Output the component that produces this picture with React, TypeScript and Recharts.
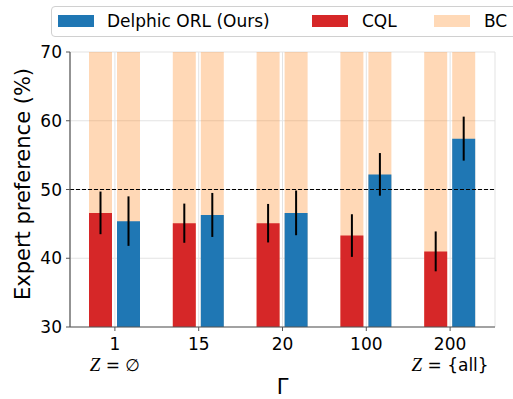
import React from 'react';
import {
  BarChart,
  Bar,
  XAxis,
  YAxis,
  CartesianGrid,
  ReferenceLine,
  ErrorBar,
} from 'recharts';

const GAMMAS = ['1', '15', '20', '100', '200'];
const SUB_LABELS = ['= ∅', '', '', '', '= {all}'];
const CQL = [46.6, 45.1, 45.1, 43.3, 41.0];
const CQL_ERR = [3.1, 2.85, 2.8, 3.1, 2.9];
const ORL = [45.4, 46.3, 46.6, 52.2, 57.4];
const ORL_ERR = [3.6, 3.2, 3.25, 3.1, 3.2];
const BC = [70, 70, 70, 70, 70];
const Y_TICKS = [30, 40, 50, 60, 70];

const BLUE = '#1f77b4';
const RED = '#d62728';
const ORANGE = '#ff7f0e';
const FRAME = '#555555';
const FONT = 'DejaVu Sans, sans-serif';

// BC is drawn twice, once behind each method's bar
const rows = GAMMAS.map((gamma, i) => ({
  gamma,
  cql: CQL[i],
  cqlErr: CQL_ERR[i],
  orl: ORL[i],
  orlErr: ORL_ERR[i],
  bcA: BC[i],
  bcB: BC[i],
}));

const GammaTick = (props: any) => {
  const { x, y, payload } = props;
  const idx = GAMMAS.indexOf(payload.value);
  const sub = SUB_LABELS[idx];
  return (
    <g>
      <text x={x} y={y + 17} textAnchor="middle" fontSize={17} fill="#000">
        {payload.value}
      </text>
      {sub && (
        <text x={x} y={y + 38} textAnchor="middle" fontSize={17} fill="#000">
          <tspan fontFamily="Liberation Serif" fontStyle="italic" fontSize={19}>
            Z
          </tspan>
          <tspan> {sub}</tspan>
        </text>
      )}
    </g>
  );
};

const LegendItem = ({ color, label, left, textLeft }: any) => (
  <>
    <span
      style={{
        position: 'absolute',
        left,
        top: 8,
        width: 36,
        height: 12,
        background: color,
      }}
    />
    <span
      style={{
        position: 'absolute',
        left: textLeft,
        top: 3,
        fontSize: 17,
        lineHeight: '22px',
        color: '#000',
        whiteSpace: 'nowrap',
      }}
    >
      {label}
    </span>
  </>
);

export default function App() {
  return (
    <div
      style={{
        position: 'absolute',
        left: 0,
        top: 0,
        width: 513,
        height: 399,
        overflow: 'hidden',
        background: '#fff',
        fontFamily: FONT,
      }}
    >
      <BarChart
        width={513}
        height={399}
        data={rows}
        margin={{ top: 52, right: 18, bottom: 42, left: 20 }}
        barGap={5}
        barSize={23}
      >
        <CartesianGrid stroke="#e3e3e3" strokeWidth={1} />
        <XAxis
          dataKey="gamma"
          padding={{ left: 3, right: 3 }}
          height={30}
          tickSize={4}
          tickMargin={2}
          tick={<GammaTick />}
          tickLine={{ stroke: FRAME }}
          axisLine={{ stroke: FRAME, strokeWidth: 1.2 }}
          interval={0}
          label={(p: any) => {
            const vb = p.viewBox;
            return (
              <text x={vb.x + vb.width / 2} y={394} textAnchor="middle" fontSize={21} fill="#000">
                Γ
              </text>
            );
          }}
        />
        <XAxis
          xAxisId="back"
          dataKey="gamma"
          orientation="top"
          padding={{ left: 3, right: 3 }}
          height={0}
          tick={false}
          tickLine={false}
          axisLine={{ stroke: FRAME, strokeWidth: 1.2 }}
        />
        <YAxis
          domain={[30, 70]}
          ticks={Y_TICKS}
          allowDataOverflow
          width={50}
          tickSize={4}
          tickMargin={4}
          tick={{ fontSize: 17, fill: '#000' }}
          tickLine={{ stroke: FRAME }}
          axisLine={{ stroke: FRAME, strokeWidth: 1.2 }}
          label={() => (
            <text
              x={0}
              y={0}
              transform="translate(30, 184) rotate(-90)"
              textAnchor="middle"
              fontSize={21}
              fill="#000"
            >
              Expert preference (%)
            </text>
          )}
        />
        <YAxis
          yAxisId="right"
          orientation="right"
          domain={[30, 70]}
          allowDataOverflow
          width={0}
          tick={false}
          tickLine={false}
          axisLine={{ stroke: FRAME, strokeWidth: 1.2 }}
        />
        <Bar xAxisId="back" dataKey="bcA" fill={ORANGE} fillOpacity={0.3} isAnimationActive={false} />
        <Bar xAxisId="back" dataKey="bcB" fill={ORANGE} fillOpacity={0.3} isAnimationActive={false} />
        <Bar dataKey="cql" fill={RED} isAnimationActive={false}>
          <ErrorBar dataKey="cqlErr" width={0} strokeWidth={2} stroke="#000" isAnimationActive={false} />
        </Bar>
        <Bar dataKey="orl" fill={BLUE} isAnimationActive={false}>
          <ErrorBar dataKey="orlErr" width={0} strokeWidth={2} stroke="#000" isAnimationActive={false} />
        </Bar>
        <ReferenceLine y={50} stroke="#000" strokeWidth={1.2} strokeDasharray="4 2" />
      </BarChart>
      <div
        style={{
          position: 'absolute',
          left: 51,
          top: 6,
          width: 466,
          height: 29,
          border: '1px solid #d0d0d0',
          borderRadius: 4,
          background: 'rgba(255,255,255,0.8)',
        }}
      >
        <LegendItem color={BLUE} label="Delphic ORL (Ours)" left={6} textLeft={55} />
        <LegendItem color={RED} label="CQL" left={260} textLeft={310} />
        <LegendItem color="#ffd9b7" label="BC" left={382} textLeft={432} />
      </div>
    </div>
  );
}
